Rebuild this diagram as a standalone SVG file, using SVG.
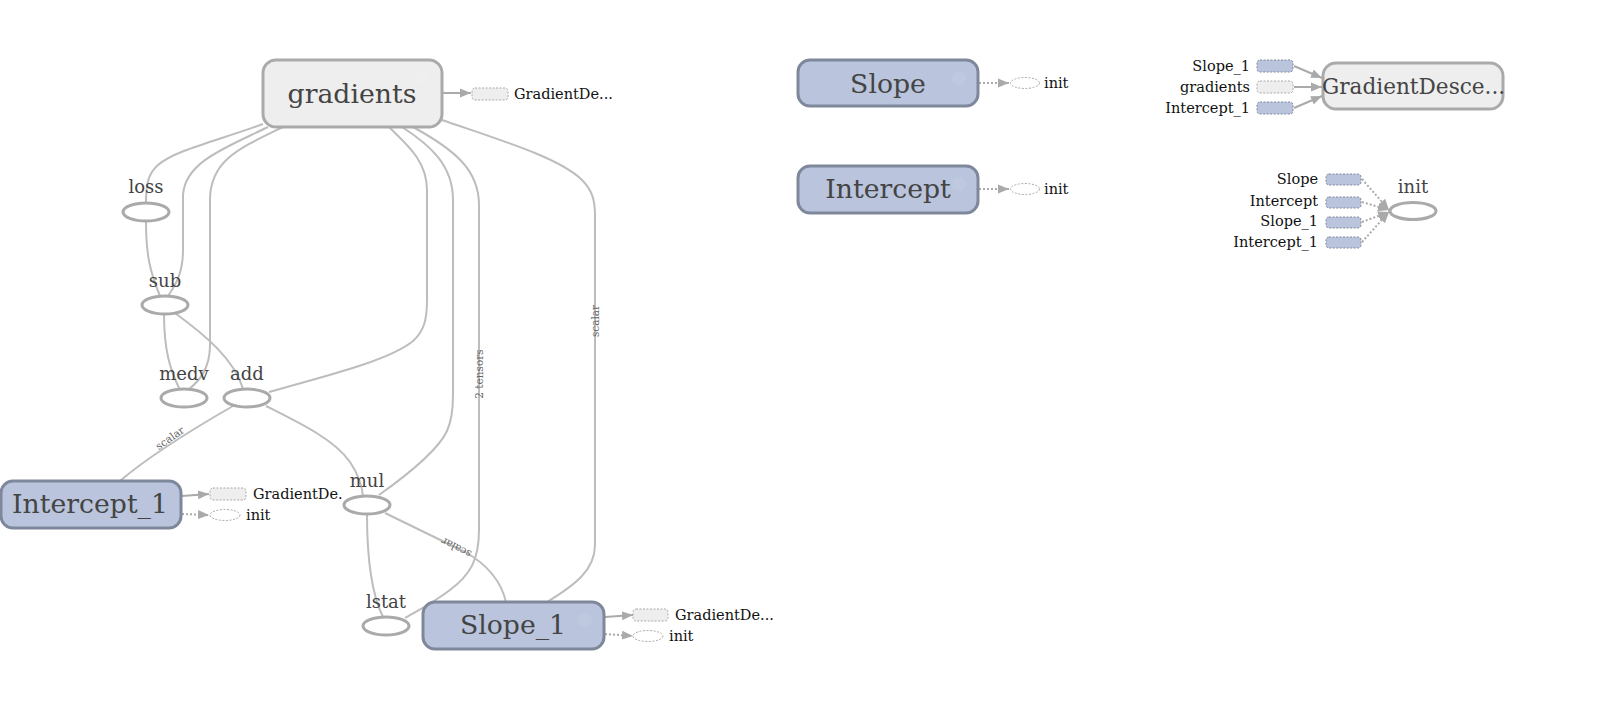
<svg xmlns="http://www.w3.org/2000/svg" width="1623" height="711" viewBox="0 0 1623 711">
<style>
text{font-family:"DejaVu Serif","Liberation Serif",serif}
.bg{fill:#fff}
.edge{fill:none;stroke:#bdbdbd;stroke-width:2}
.op{fill:#fff;stroke:#aaa;stroke-width:3}
.lbl{fill:#444;font-size:18px;text-anchor:middle}
.big{fill:#444;font-size:26.7px;text-anchor:middle}
.grp{fill:#eee;stroke:#aaa;stroke-width:3}
.var{fill:#bac5dd;stroke:#7f889b;stroke-width:3}
.small{fill:#111;font-size:14.5px}
.smallr{fill:#111;font-size:14.5px;text-anchor:end}
.elbl{fill:#666;font-size:10.5px;text-anchor:middle}
.ann{fill:none;stroke:#aaa;stroke-width:2}
.annd{fill:none;stroke:#aaa;stroke-width:2;stroke-dasharray:2,2}
.sgrp{fill:#eee;stroke:#aaa;stroke-width:1;stroke-dasharray:2,1.5}
.svar{fill:#bac5dd;stroke:#7f889b;stroke-width:1;stroke-dasharray:2,1.5}
.sop{fill:#fff;stroke:#aaa;stroke-width:1;stroke-dasharray:2,1.5}
.icon{fill:#fff;opacity:0.07}
</style>
<defs>
<marker id="arr" markerUnits="userSpaceOnUse" markerWidth="12" markerHeight="10" refX="11" refY="5" orient="auto">
<path d="M0,0.5 L11,5 L0,9.5 z" fill="#aaa"/>
</marker>
</defs>
<rect class="bg" x="0" y="0" width="1623" height="711"/>

<g id="connectors">
<path class="edge" d="M263,124 C220,140 175,150 158,165 C149,173 146,182 146,203"/>
<path class="edge" d="M268,127 C225,148 185,162 183,195 L183,250 C183,275 174,287 168,296"/>
<path class="edge" d="M283,127 C240,148 210,160 210,200 L210,345 C210,370 198,382 188,390"/>
<path class="edge" d="M146,221 C146,255 150,272 160,296"/>
<path class="edge" d="M164,314 C164,350 170,370 180,390"/>
<path class="edge" d="M175,313 C205,335 235,360 243,389"/>
<path class="edge" d="M269,392 C330,375 390,360 413,341 C424,331 427,320 427,300 L427,190 C427,160 405,143 389,127"/>
<path class="edge" d="M379,495 C410,473 438,450 447,431 C452,420 453,410 453,395 L453,200 C453,165 430,145 402,127"/>
<path class="edge" d="M413,127 C455,150 479,170 479,205 L479,530 C479,560 470,575 450,590 C430,605 415,612 405,618"/>
<path class="edge" d="M442,120 C500,140 560,158 582,180 C592,190 595,200 595,215 L595,545 C595,570 575,585 547,602"/>
<path class="edge" d="M233,406 C200,425 150,455 120,481"/>
<path class="edge" d="M266,406 C300,423 335,440 350,462 C358,474 362,485 363,496"/>
<path class="edge" d="M367,514 C367,560 372,595 383,617"/>
<path class="edge" d="M385,513 L465,552 C490,566 502,585 506,602"/>
<text class="elbl" transform="translate(172,441) rotate(-35)" dy="0">scalar</text>
<text class="elbl" transform="translate(456,548) rotate(207)" dy="4">scalar</text>
<text class="elbl" transform="translate(479,374) rotate(-90)" dy="4">2 tensors</text>
<text class="elbl" transform="translate(595,321) rotate(-90)" dy="4">scalar</text>

<path class="ann" d="M443,93 L471,93" marker-end="url(#arr)"/>
<path class="annd" d="M979,83 L1009,83" marker-end="url(#arr)"/>
<path class="annd" d="M979,189 L1009,189" marker-end="url(#arr)"/>
<path class="ann" d="M182,496 L209,494" marker-end="url(#arr)"/>
<path class="annd" d="M182,514 L209,515" marker-end="url(#arr)"/>
<path class="ann" d="M605,617 L633,615" marker-end="url(#arr)"/>
<path class="annd" d="M605,634 L633,636" marker-end="url(#arr)"/>
<path class="ann" d="M1294,66 L1322,78" marker-end="url(#arr)"/>
<path class="ann" d="M1294,87 L1322,87" marker-end="url(#arr)"/>
<path class="ann" d="M1294,108 L1322,96" marker-end="url(#arr)"/>
<path class="annd" d="M1362,179 L1389,210" marker-end="url(#arr)"/>
<path class="annd" d="M1362,202 L1389,210" marker-end="url(#arr)"/>
<path class="annd" d="M1362,222 L1389,212" marker-end="url(#arr)"/>
<path class="annd" d="M1362,242 L1389,212" marker-end="url(#arr)"/>
</g>

<g id="gradients">
<rect class="grp" x="263" y="60" width="179" height="67" rx="13"/>
<circle class="icon" cx="422" cy="77" r="7"/>
<text class="big" x="352" y="103">gradients</text>
<rect class="sgrp" x="472" y="88" width="36" height="12" rx="3"/>
<text class="small" x="514" y="99">GradientDe...</text>
</g>

<g id="loss">
<ellipse class="op" cx="146" cy="212" rx="23" ry="9"/>
<text class="lbl" x="146" y="193">loss</text>
</g>
<g id="sub">
<ellipse class="op" cx="165" cy="305" rx="23" ry="9"/>
<text class="lbl" x="165" y="287">sub</text>
</g>
<g id="medv">
<ellipse class="op" cx="184" cy="398" rx="23" ry="9"/>
<text class="lbl" x="184" y="380">medv</text>
</g>
<g id="add">
<ellipse class="op" cx="247" cy="398" rx="23" ry="9"/>
<text class="lbl" x="247" y="380">add</text>
</g>

<g id="Intercept_1">
<rect class="var" x="1" y="481" width="180" height="47" rx="12"/>
<text class="big" x="90" y="513">Intercept_1</text>
<rect class="sgrp" x="210" y="488" width="36" height="12" rx="3"/>
<text class="small" x="253" y="499">GradientDe.</text>
<ellipse class="sop" cx="225" cy="515" rx="15" ry="5.5"/>
<text class="small" x="246" y="520">init</text>
</g>

<g id="mul">
<ellipse class="op" cx="367" cy="505" rx="23" ry="9"/>
<text class="lbl" x="367" y="487">mul</text>
</g>
<g id="lstat">
<ellipse class="op" cx="386" cy="626" rx="23" ry="9"/>
<text class="lbl" x="386" y="608">lstat</text>
</g>

<g id="Slope_1">
<rect class="var" x="423" y="602" width="181" height="47" rx="12"/>
<circle class="icon" cx="585" cy="620" r="7"/>
<text class="big" x="513" y="634">Slope_1</text>
<rect class="sgrp" x="633" y="609" width="35" height="12" rx="3"/>
<text class="small" x="675" y="620">GradientDe...</text>
<ellipse class="sop" cx="648" cy="636" rx="15" ry="5.5"/>
<text class="small" x="669" y="641">init</text>
</g>

<g id="Slope">
<rect class="var" x="798" y="60" width="180" height="46" rx="12"/>
<circle class="icon" cx="959" cy="78" r="7"/>
<text class="big" x="888" y="93">Slope</text>
<ellipse class="sop" cx="1025" cy="83" rx="14.5" ry="5.5"/>
<text class="small" x="1044" y="88">init</text>
</g>

<g id="Intercept">
<rect class="var" x="798" y="166" width="180" height="47" rx="12"/>
<circle class="icon" cx="959" cy="184" r="7"/>
<text class="big" x="888" y="198">Intercept</text>
<ellipse class="sop" cx="1025" cy="189" rx="14.5" ry="5.5"/>
<text class="small" x="1044" y="194">init</text>
</g>

<g id="GradientDescent">
<rect class="svar" x="1257" y="60" width="36" height="12" rx="3"/>
<text class="smallr" x="1250" y="71">Slope_1</text>
<rect class="sgrp" x="1257" y="81" width="36" height="12" rx="3"/>
<text class="smallr" x="1250" y="92">gradients</text>
<rect class="svar" x="1257" y="102" width="36" height="12" rx="3"/>
<text class="smallr" x="1250" y="113">Intercept_1</text>
<rect class="grp" x="1323" y="63" width="180" height="46" rx="13"/>
<circle class="icon" cx="1488" cy="79" r="7"/>
<text x="1322" y="94" style="fill:#444;font-size:21.6px">GradientDesce...</text>
</g>

<g id="init">
<rect class="svar" x="1326" y="174" width="35" height="11" rx="3"/>
<text class="smallr" x="1318" y="184">Slope</text>
<rect class="svar" x="1326" y="197" width="35" height="11" rx="3"/>
<text class="smallr" x="1318" y="206">Intercept</text>
<rect class="svar" x="1326" y="217" width="35" height="11" rx="3"/>
<text class="smallr" x="1318" y="226">Slope_1</text>
<rect class="svar" x="1326" y="237" width="35" height="11" rx="3"/>
<text class="smallr" x="1318" y="247">Intercept_1</text>
<ellipse class="op" cx="1413" cy="211" rx="23" ry="8.5"/>
<text class="lbl" x="1413" y="193">init</text>
</g>
</svg>
